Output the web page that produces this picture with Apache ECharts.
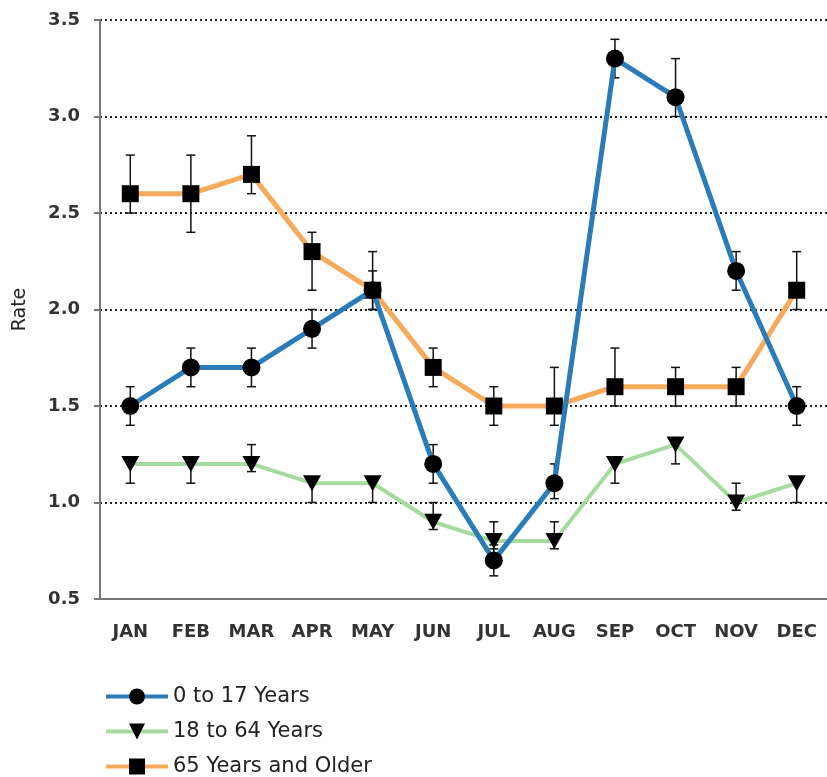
<!DOCTYPE html>
<html>
<head>
<meta charset="utf-8">
<script src="https://cdn.jsdelivr.net/npm/echarts@6/dist/echarts.min.js"></script>
<style>
  html, body { margin: 0; padding: 0; background: #fff; }
  #chart { width: 827px; height: 777px; }
</style>
</head>
<body>
<div id="chart"></div>
<script>
//月份
var months = ['JAN', 'FEB', 'MAR', 'APR', 'MAY', 'JUN', 'JUL', 'AUG', 'SEP', 'OCT', 'NOV', 'DEC'];

//0 to 17 Years
var youngRate = [1.5, 1.7, 1.7, 1.9, 2.1, 1.2, 0.7, 1.1, 3.3, 3.1, 2.2, 1.5];
var youngLow = [1.4, 1.6, 1.6, 1.8, 2.0, 1.1, 0.62, 1.02, 3.2, 3.0, 2.1, 1.4];
var youngHigh = [1.6, 1.8, 1.8, 2.0, 2.2, 1.3, 0.78, 1.2, 3.4, 3.3, 2.3, 1.6];

//18 to 64 Years
var adultRate = [1.2, 1.2, 1.2, 1.1, 1.1, 0.9, 0.8, 0.8, 1.2, 1.3, 1.0, 1.1];
var adultLow = [1.1, 1.1, 1.16, 1.0, 1.0, 0.86, 0.76, 0.76, 1.1, 1.2, 0.96, 1.0];
var adultHigh = [1.22, 1.22, 1.3, 1.13, 1.13, 1.0, 0.9, 0.9, 1.22, 1.32, 1.1, 1.13];

//65 Years and Older
var oldRate = [2.6, 2.6, 2.7, 2.3, 2.1, 1.7, 1.5, 1.5, 1.6, 1.6, 1.6, 2.1];
var oldLow = [2.5, 2.4, 2.6, 2.1, 2.0, 1.6, 1.4, 1.4, 1.5, 1.5, 1.5, 2.0];
var oldHigh = [2.8, 2.8, 2.9, 2.4, 2.3, 1.8, 1.6, 1.7, 1.8, 1.7, 1.7, 2.3];

var seriesNames = ['0 to 17 Years', '18 to 64 Years', '65 Years and Older'];

var yTicks = { min: 0.5, max: 3.5, interval: 0.5 };

var fontName = 'DejaVu Sans';

//误差线数据
var errData = function(low, high) {
	var out = [];
	for(var i = 0; i < low.length; i++) {
		out.push([i, low[i], high[i]]);
	}
	return out;
};

//误差线绘制
var renderErr = function(params, api) {
	var top = api.coord([api.value(0), api.value(2)]);
	var bot = api.coord([api.value(0), api.value(1)]);
	var cap = 4.5;
	var style = { stroke: '#111', lineWidth: 1.5 };
	return {
		type: 'group',
		children: [{
			type: 'line',
			shape: { x1: top[0], y1: top[1], x2: bot[0], y2: bot[1] },
			style: style
		}, {
			type: 'line',
			shape: { x1: top[0] - cap, y1: top[1], x2: top[0] + cap, y2: top[1] },
			style: style
		}, {
			type: 'line',
			shape: { x1: bot[0] - cap, y1: bot[1], x2: bot[0] + cap, y2: bot[1] },
			style: style
		}]
	};
};

var errSeries = function(name, low, high) {
	return {
		name: name,
		type: 'custom',
		renderItem: renderErr,
		data: errData(low, high),
		encode: { x: 0, y: [1, 2] },
		z: 3,
		silent: true
	};
};

//图例,每项单独一个,避免换列
var legendItem = function(name, top) {
	return {
		orient: 'vertical',
		left: 104,
		top: top,
		padding: 0,
		itemWidth: 62,
		itemHeight: 20,
		data: [name],
		lineStyle: { width: 4 },
		textStyle: {
			fontFamily: fontName,
			fontSize: 21,
			color: '#222'
		}
	};
};

var chart = echarts.init(document.getElementById('chart'));
chart.setOption({
	animation: false,
	backgroundColor: '#fff',
	grid: {
		left: 100,
		top: 20,
		width: 734,
		height: 579
	},
	legend: [
		legendItem(seriesNames[0], 686),
		legendItem(seriesNames[1], 721),
		legendItem(seriesNames[2], 756)
	],
	xAxis: {
		type: 'category',
		data: months,
		boundaryGap: true,
		axisLine: { lineStyle: { color: '#777', width: 2 } },
		axisTick: { alignWithLabel: true, length: 8, lineStyle: { color: '#777', width: 2 } },
		axisLabel: {
			margin: 24,
			fontFamily: fontName,
			fontSize: 18,
			fontWeight: 'bold',
			color: '#333'
		},
		splitLine: { show: false }
	},
	yAxis: {
		type: 'value',
		min: yTicks.min,
		max: yTicks.max,
		interval: yTicks.interval,
		name: 'Rate',
		nameLocation: 'middle',
		nameGap: 70,
		nameTextStyle: { fontFamily: fontName, fontSize: 19, color: '#222' },
		axisLine: { show: true, lineStyle: { color: '#777', width: 2 } },
		axisTick: { show: true, length: 6, lineStyle: { color: '#777', width: 2 } },
		axisLabel: {
			margin: 20,
			fontFamily: fontName,
			fontSize: 18,
			fontWeight: 'bold',
			color: '#333',
			formatter: function(v) { return v.toFixed(1); }
		},
		splitLine: {
			show: true,
			lineStyle: { color: '#222', width: 2, type: [2, 3] }
		}
	},
	series: [{
		name: seriesNames[2],
		type: 'line',
		data: oldRate,
		symbol: 'rect',
		symbolSize: 17,
		z: 4,
		lineStyle: { color: '#f5aa5c', width: 5 },
		itemStyle: { color: '#000' }
	}, {
		name: seriesNames[1],
		type: 'line',
		data: adultRate,
		symbol: 'triangle',
		symbolRotate: 180,
		symbolSize: [18, 16],
		z: 5,
		lineStyle: { color: '#a5db9f', width: 4 },
		itemStyle: { color: '#000' }
	}, {
		name: seriesNames[0],
		type: 'line',
		data: youngRate,
		symbol: 'circle',
		symbolSize: 18,
		z: 6,
		lineStyle: { color: '#2b7bb9', width: 5 },
		itemStyle: { color: '#000' }
	},
	errSeries('err-old', oldLow, oldHigh),
	errSeries('err-adult', adultLow, adultHigh),
	errSeries('err-young', youngLow, youngHigh)
	]
});
</script>
</body>
</html>
